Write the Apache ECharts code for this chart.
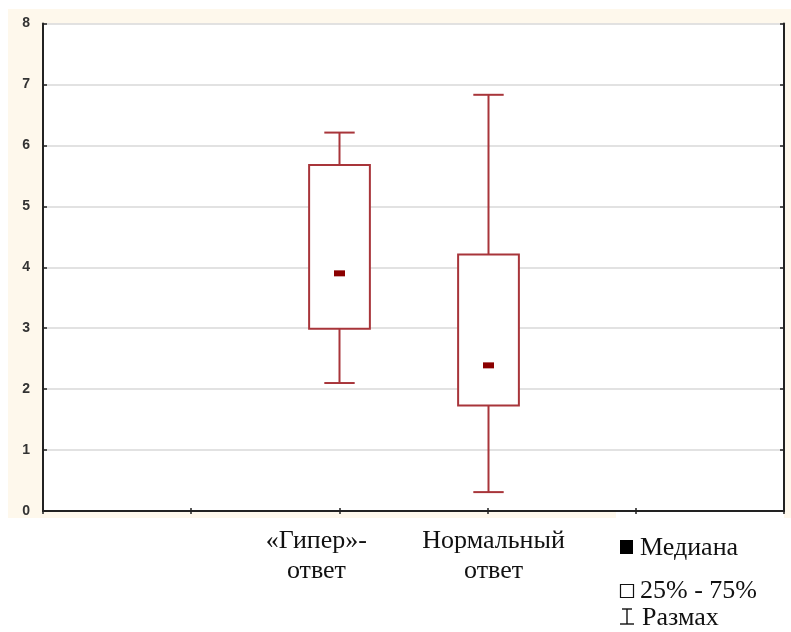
<!DOCTYPE html>
<html>
<head>
<meta charset="utf-8">
<script src="https://cdn.jsdelivr.net/npm/echarts@6/dist/echarts.min.js"></script>
<style>html,body{margin:0;padding:0;background:#fff}#c{width:791px;height:632px}</style>
</head>
<body>
<div id="c"></div>
<script>
// Category slots (boundaryGap false): only the two middle slots carry boxes
const slots = ['s0', 's1', 'Гипер', 'Нормальный', 's4', 's5'];
const slotLabels = ['', '', '«Гипер»-\nответ', 'Нормальный\nответ', '', ''];
const groups = ['Гипер', 'Нормальный'];
const mins = [2.10, 0.31];
const q1s = [2.99, 1.73];
const medians = [3.90, 2.39];
const q3s = [5.68, 4.21];
const maxs = [6.21, 6.83];
const yTicks = [0, 1, 2, 3, 4, 5, 6, 7, 8];
const legendItems = ['Медиана', '25% - 75%', 'Размах'];

const boxColor = '#a8353a';
const medColor = '#8b0000';

const data = groups.map((g, i) => [g, mins[i], q1s[i], medians[i], q3s[i], maxs[i]]);

const chart = echarts.init(document.getElementById('c'), null, {renderer: 'canvas'});

const axisLineStyle = {color: '#222', width: 2};
const serif = '"Liberation Serif", "Times New Roman", serif';
const fs = 26;

chart.setOption({
  backgroundColor: '#ffffff',
  animation: false,
  grid: {left: 43, right: 7, top: 23.5, bottom: 121, show: true, backgroundColor: '#ffffff', borderWidth: 0},
  xAxis: [{
    type: 'category', data: slots, boundaryGap: false, position: 'bottom',
    axisLine: {show: true, lineStyle: axisLineStyle},
    axisTick: {show: true, inside: true, length: 3, lineStyle: {color: '#222', width: 1.5}},
    axisLabel: {
      show: true, margin: 15, interval: 0,
      formatter: (v, idx) => {
        const t = slotLabels[idx];
        if (!t) return '';
        const key = idx === 2 ? 'a' : 'b';
        return t.split('\n').map(s => '{' + key + '|' + s + '}').join('\n');
      },
      rich: {
        a: {fontFamily: serif, fontSize: fs, color: '#111', lineHeight: 30, padding: [0, 46, 0, 0]},
        b: {fontFamily: serif, fontSize: fs, color: '#111', lineHeight: 30, padding: [0, 0, 0, 12]}
      }
    },
    splitLine: {show: false}
  }, {
    type: 'category', data: slots, boundaryGap: false, position: 'top',
    axisLine: {show: true, lineStyle: axisLineStyle},
    axisTick: {show: true, inside: true, length: 3, lineStyle: {color: '#222', width: 1.5}},
    axisLabel: {show: false}, splitLine: {show: false}
  }],
  yAxis: [{
    type: 'value', min: 0, max: 8, interval: 1, position: 'left',
    axisLine: {show: true, lineStyle: axisLineStyle},
    axisTick: {show: true, inside: true, length: 4, lineStyle: {color: '#222', width: 1.5}},
    axisLabel: {
      margin: 13, fontFamily: '"Liberation Sans", Arial, sans-serif', fontWeight: 'bold', fontSize: 14, color: '#333',
      formatter: v => String(yTicks[yTicks.indexOf(v)])
    },
    splitLine: {show: true, lineStyle: {color: '#d9d9d9', width: 1.5}}
  }, {
    type: 'value', min: 0, max: 8, interval: 1, position: 'right',
    axisLine: {show: true, lineStyle: axisLineStyle},
    axisTick: {show: true, inside: true, length: 4, lineStyle: {color: '#222', width: 1.5}},
    axisLabel: {show: false}, splitLine: {show: false}
  }],
  graphic: [
    {type: 'rect', z: -10, shape: {x: 8, y: 9, width: 783, height: 15}, style: {fill: '#fef8ec'}},
    {type: 'rect', z: -10, shape: {x: 8, y: 9, width: 608, height: 509}, style: {fill: '#fef8ec'}},
    {type: 'rect', z: -10, shape: {x: 784, y: 9, width: 7, height: 509}, style: {fill: '#fef8ec'}},
    // legend
    {type: 'rect', shape: {x: 620, y: 540, width: 13, height: 14}, style: {fill: '#000'}},
    {type: 'text', x: 640, y: 548, style: {text: legendItems[0], font: fs + 'px ' + serif, fill: '#111', verticalAlign: 'middle'}},
    {type: 'rect', shape: {x: 620.5, y: 584.5, width: 13, height: 13}, style: {fill: '#fff', stroke: '#111', lineWidth: 1.2}},
    {type: 'text', x: 640, y: 591, style: {text: legendItems[1], font: fs + 'px ' + serif, fill: '#111', verticalAlign: 'middle'}},
    {type: 'line', shape: {x1: 622, y1: 609, x2: 632, y2: 609}, style: {stroke: '#111', lineWidth: 1.4}},
    {type: 'line', shape: {x1: 627, y1: 609, x2: 627, y2: 624}, style: {stroke: '#111', lineWidth: 1.4}},
    {type: 'line', shape: {x1: 620, y1: 624, x2: 634, y2: 624}, style: {stroke: '#111', lineWidth: 1.4}},
    {type: 'text', x: 642, y: 618, style: {text: legendItems[2], font: fs + 'px ' + serif, fill: '#111', verticalAlign: 'middle'}}
  ],
  series: [{
    type: 'custom',
    xAxisIndex: 0, yAxisIndex: 0,
    encode: {x: 0, y: [1, 2, 3, 4, 5]},
    data: data,
    renderItem: function (params, api) {
      const xi = api.value(0);
      const pMin = api.coord([xi, api.value(1)]);
      const pQ1 = api.coord([xi, api.value(2)]);
      const pMed = api.coord([xi, api.value(3)]);
      const pQ3 = api.coord([xi, api.value(4)]);
      const pMax = api.coord([xi, api.value(5)]);
      const slot = api.size([1, 0])[0];
      const bw = slot * 0.41;
      const cw = bw / 2;
      const x = Math.round(pMed[0]) + 0.5;
      const ls = {stroke: boxColor, lineWidth: 2, fill: null};
      return {
        type: 'group',
        children: [
          {type: 'line', shape: {x1: x, y1: pQ3[1], x2: x, y2: pMax[1]}, style: ls},
          {type: 'line', shape: {x1: x - cw / 2, y1: pMax[1], x2: x + cw / 2, y2: pMax[1]}, style: ls},
          {type: 'line', shape: {x1: x, y1: pQ1[1], x2: x, y2: pMin[1]}, style: ls},
          {type: 'line', shape: {x1: x - cw / 2, y1: pMin[1], x2: x + cw / 2, y2: pMin[1]}, style: ls},
          {type: 'rect', shape: {x: x - bw / 2, y: pQ3[1], width: bw, height: pQ1[1] - pQ3[1]}, style: {stroke: boxColor, lineWidth: 2, fill: '#fff'}},
          {type: 'rect', shape: {x: x - 5.5, y: pMed[1] - 3, width: 11, height: 6}, style: {fill: medColor}}
        ]
      };
    }
  }]
});
</script>
</body>
</html>
